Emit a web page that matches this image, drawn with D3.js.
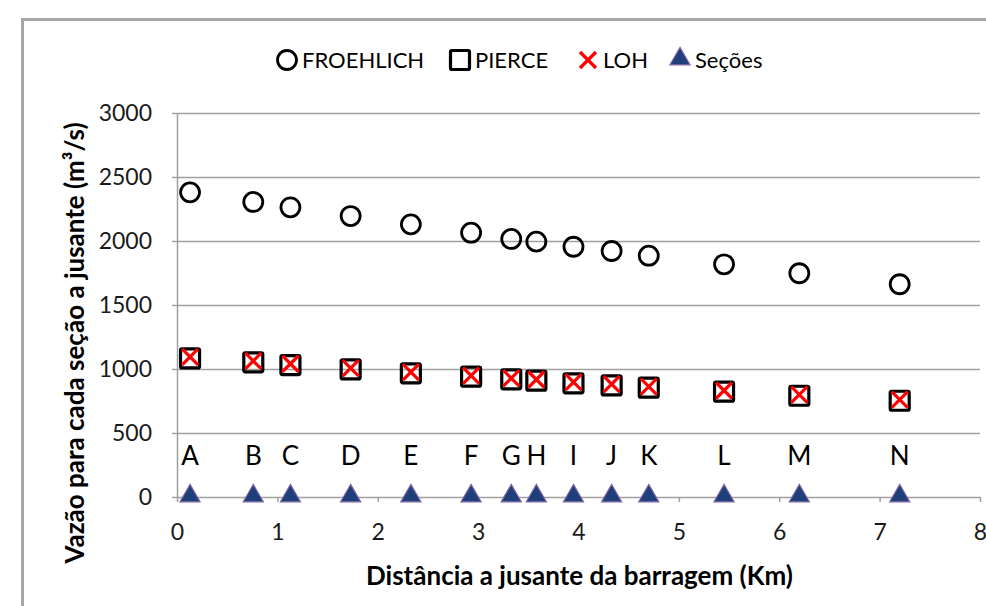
<!DOCTYPE html>
<html>
<head>
<meta charset="utf-8">
<script src="https://cdn.jsdelivr.net/npm/d3@7"></script>
<style>
  body { margin: 0; background: #fff; }
  svg { display: block; font-family: Lato, "Open Sans", sans-serif; }
</style>
</head>
<body>
<div id="chart"></div>
<script>
let width = 986,
    height = 606,
    margin = ({ top: 113, right: 6, bottom: 109, left: 177 });

// sections and their distance downstream (km)
const sections = ["A", "B", "C", "D", "E", "F", "G", "H", "I", "J", "K", "L", "M", "N"];
const distance = [0.13, 0.76, 1.13, 1.73, 2.33, 2.93, 3.33, 3.58, 3.95, 4.33, 4.70, 5.45, 6.20, 7.20];
// discharge (m3/s) by method
const froehlich = [2380, 2305, 2263, 2195, 2130, 2065, 2016, 1995, 1955, 1922, 1885, 1818, 1748, 1662];
const pierce = [1083, 1052, 1031, 997, 966, 940, 919, 909, 888, 872, 854, 823, 791, 752];
const loh = [1095, 1063, 1041, 1006, 976, 949, 928, 918, 897, 881, 863, 832, 800, 761];
const secoes = [0, 0, 0, 0, 0, 0, 0, 0, 0, 0, 0, 0, 0, 0];
const xTicks = [0, 1, 2, 3, 4, 5, 6, 7, 8];
const yTicks = [0, 500, 1000, 1500, 2000, 2500, 3000];

const svg = d3.select("#chart")
  .append("svg")
  .attr("width", width)
  .attr("height", height);

// outer frame (cropped at right / bottom)
svg.append("rect")
  .attr("x", 22.5).attr("y", 19.5)
  .attr("width", 1000).attr("height", 700)
  .attr("fill", "none")
  .attr("stroke", "#a6a6a6")
  .attr("stroke-width", 3);

let x = d3.scaleLinear()
  .domain([0, 8])
  .range([margin.left, width - margin.right]);

let y = d3.scaleLinear()
  .domain([0, 3000])
  .range([height - margin.bottom, margin.top]);

const gridColor = "#a0a0a0";

// horizontal gridlines
svg.append("g")
  .attr("transform", `translate(${margin.left},0)`)
  .call(d3.axisLeft(y).tickValues(yTicks.slice(1)).tickSize(-(x(8) - x(0))).tickFormat(""))
  .call(g => g.select(".domain").remove())
  .call(g => g.selectAll("line").attr("stroke", gridColor).attr("stroke-width", 1.5));

// y axis
svg.append("g")
  .attr("transform", `translate(${margin.left},0)`)
  .call(d3.axisLeft(y).tickValues(yTicks).tickFormat(d3.format("d")).tickSize(5).tickSizeOuter(0).tickPadding(20))
  .call(g => g.select(".domain").attr("stroke", gridColor).attr("stroke-width", 1.5))
  .call(g => g.selectAll("line").attr("stroke", gridColor).attr("stroke-width", 1.5))
  .call(g => g.selectAll("text").attr("font-size", 23).attr("font-family", "Lato").attr("fill", "#1a1a1a"));

// x axis
svg.append("g")
  .attr("transform", `translate(0,${y(0)})`)
  .call(d3.axisBottom(x).tickValues(xTicks).tickSize(5).tickSizeOuter(0).tickPadding(22))
  .call(g => g.select(".domain").attr("stroke", gridColor).attr("stroke-width", 1.5))
  .call(g => g.selectAll("line").attr("stroke", gridColor).attr("stroke-width", 1.5))
  .call(g => g.selectAll("text").attr("font-size", 23).attr("font-family", "Lato").attr("fill", "#1a1a1a"));

// axis titles
svg.append("text")
  .attr("x", (366 + 793) / 2)
  .attr("y", 585)
  .attr("text-anchor", "middle")
  .attr("font-weight", "bold")
  .attr("font-size", 26)
  .text("Distância a jusante da barragem (Km)");

svg.append("text")
  .attr("transform", "translate(84,343) rotate(-90)")
  .attr("text-anchor", "middle")
  .attr("font-weight", "bold")
  .attr("font-size", 26)
  .text("Vazão para cada seção a jusante (m³/s)");

// marker shapes
function circleMark(g) {
  g.append("circle").attr("r", 9.5).attr("fill", "none").attr("stroke", "#000").attr("stroke-width", 2.8);
}
function squareMark(g) {
  g.append("rect").attr("x", -9.5).attr("y", -9.5).attr("width", 19).attr("height", 19)
    .attr("rx", 1.5).attr("fill", "none").attr("stroke", "#000").attr("stroke-width", 3.2);
}
function crossMark(g) {
  g.append("path").attr("d", "M-8,-8L8,8M8,-8L-8,8")
    .attr("fill", "none").attr("stroke", "#ff0000").attr("stroke-width", 3.2);
}
function triMark(g) {
  g.append("path").attr("d", d3.symbol(d3.symbolTriangle, 175)())
    .attr("transform", "translate(0,-1)")
    .attr("fill", "#1f3f7a").attr("stroke", "#8064a2").attr("stroke-width", 1.2);
}

const series = [
  { name: "FROEHLICH", values: froehlich, mark: circleMark },
  { name: "PIERCE", values: pierce, mark: squareMark },
  { name: "LOH", values: loh, mark: crossMark },
  { name: "Seções", values: secoes, mark: triMark }
];

for (let s of series) {
  let g = svg.append("g").attr("class", "series");
  s.values.forEach((v, i) => {
    g.append("g")
      .attr("transform", `translate(${x(distance[i])},${y(v)})`)
      .call(s.mark);
  });
}

// section labels
svg.append("g")
  .selectAll("text")
  .data(sections)
  .join("text")
  .attr("x", (d, i) => x(distance[i]))
  .attr("y", 465)
  .attr("text-anchor", "middle")
  .attr("font-size", 26)
  .attr("fill", "#000")
  .text(d => d);

// legend
const legendX = [287, 460, 588, 680];
series.forEach((s, i) => {
  let g = svg.append("g").attr("transform", `translate(${legendX[i]},60)`);
  g.append("g").call(s.mark);
  g.append("text")
    .attr("x", 15)
    .attr("y", 8)
    .attr("font-size", 22)
    .attr("fill", "#000")
    .text(s.name);
});
</script>
</body>
</html>
